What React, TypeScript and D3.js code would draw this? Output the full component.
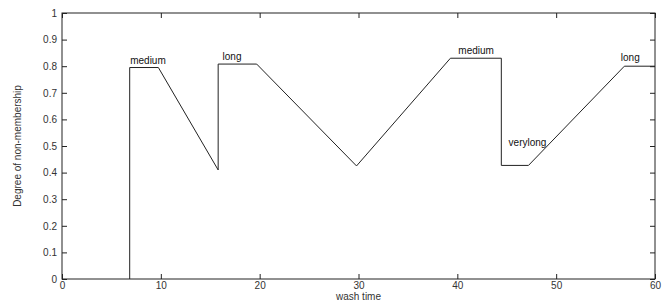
import React, { useEffect, useRef } from 'react';
import * as d3 from 'd3';

// polyline of the membership curve
const washTime = [6.85, 6.85, 9.75, 15.8, 15.8, 19.7, 29.8, 39.3, 44.45, 44.45, 47.2, 56.9, 60];
const nonMembership = [0, 0.795, 0.795, 0.41, 0.808, 0.808, 0.425, 0.83, 0.83, 0.427, 0.427, 0.8, 0.8];

const labelText = ['medium', 'long', 'medium', 'verylong', 'long'];
const labelX = [8.7, 17.2, 41.9, 47.1, 57.5];
const labelY = [0.81, 0.825, 0.845, 0.5, 0.82];

const xTicks = [0, 10, 20, 30, 40, 50, 60];
const yTicks = [0, 0.1, 0.2, 0.3, 0.4, 0.5, 0.6, 0.7, 0.8, 0.9, 1];

const App: React.FC = () => {
  const svgRef = useRef<SVGSVGElement>(null);

  useEffect(() => {
    if (!svgRef.current) return;
    const svg = d3.select(svgRef.current);
    svg.selectAll('*').remove();

    const left = 62;
    const right = 655;
    const top = 13;
    const bottom = 279;
    const font = 'Arial, "Liberation Sans", sans-serif';
    const ink = '#222';

    const x = d3.scaleLinear().domain([0, 60]).range([left, right]);
    const y = d3.scaleLinear().domain([0, 1]).range([bottom, top]);

    const fmt = (d: number) => d3.format('')(+d.toFixed(1));

    const styleAxis = (g: d3.Selection<SVGGElement, unknown, null, undefined>) => {
      g.select('.domain').remove();
      g.selectAll('line').attr('stroke', ink);
      g.selectAll('text').attr('fill', '#333').style('font-family', font).style('font-size', '10px');
    };

    svg
      .append('g')
      .attr('transform', `translate(0,${bottom})`)
      .call(d3.axisBottom(x).tickValues(xTicks).tickSize(-5).tickPadding(3).tickFormat((d) => fmt(+d)))
      .call(styleAxis);
    svg
      .append('g')
      .attr('transform', `translate(0,${top})`)
      .call(d3.axisTop(x).tickValues(xTicks).tickSize(-5).tickFormat(() => ''))
      .call(styleAxis);
    svg
      .append('g')
      .attr('transform', `translate(${left},0)`)
      .call(d3.axisLeft(y).tickValues(yTicks).tickSize(-5).tickPadding(5).tickFormat((d) => fmt(+d)))
      .call(styleAxis);
    svg
      .append('g')
      .attr('transform', `translate(${right},0)`)
      .call(d3.axisRight(y).tickValues(yTicks).tickSize(-5).tickFormat(() => ''))
      .call(styleAxis);

    svg
      .append('rect')
      .attr('x', left)
      .attr('y', top)
      .attr('width', right - left)
      .attr('height', bottom - top)
      .attr('fill', 'none')
      .attr('stroke', ink)
      .attr('stroke-width', 1);

    const line = d3
      .line<number>()
      .x((d) => x(washTime[d]))
      .y((d) => y(nonMembership[d]));

    svg
      .append('path')
      .datum(d3.range(washTime.length))
      .attr('d', line)
      .attr('fill', 'none')
      .attr('stroke', ink)
      .attr('stroke-width', 1);

    svg
      .selectAll('.curve-label')
      .data(labelText)
      .enter()
      .append('text')
      .attr('class', 'curve-label')
      .attr('x', (_, i) => x(labelX[i]))
      .attr('y', (_, i) => y(labelY[i]))
      .attr('text-anchor', 'middle')
      .attr('fill', '#111')
      .style('font-family', font)
      .style('font-size', '10px')
      .text((d) => d);

    svg
      .append('text')
      .attr('x', (left + right) / 2)
      .attr('y', 300)
      .attr('text-anchor', 'middle')
      .attr('fill', '#333')
      .style('font-family', font)
      .style('font-size', '10px')
      .text('wash time');

    svg
      .append('text')
      .attr('transform', `translate(21,${(top + bottom) / 2}) rotate(-90)`)
      .attr('text-anchor', 'middle')
      .attr('fill', '#333')
      .style('font-family', font)
      .style('font-size', '10px')
      .text('Degree of non-membership');
  }, []);

  return (
    <svg
      ref={svgRef}
      width={664}
      height={307}
      style={{ position: 'absolute', left: 0, top: 0, background: '#fff' }}
    ></svg>
  );
};

export default App;
